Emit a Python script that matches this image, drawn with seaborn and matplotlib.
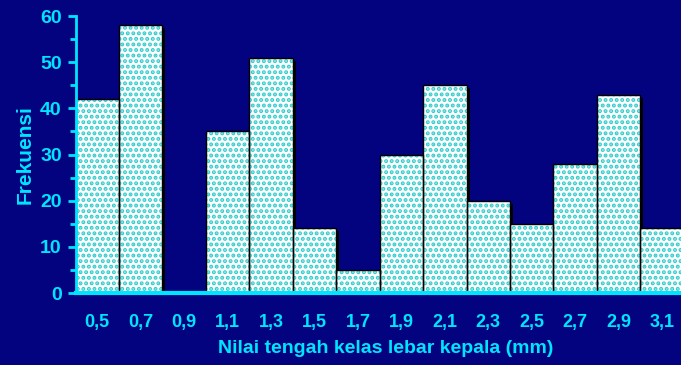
import matplotlib
matplotlib.use("Agg")
import matplotlib.pyplot as plt
import matplotlib.transforms as mtransforms
import seaborn as sns
import pandas as pd

# Class midpoints (head width, mm) and their frequencies
kelas = ["0,5", "0,7", "0,9", "1,1", "1,3", "1,5", "1,7",
         "1,9", "2,1", "2,3", "2,5", "2,7", "2,9", "3,1"]
frekuensi = [42, 58, 0, 35, 51, 14, 5, 30, 45, 20, 15, 28, 43, 14]

df = pd.DataFrame({"kelas": kelas, "frekuensi": frekuensi})

BG = "#03037f"
CYAN = "#00e5ff"
DOT = "#33cccc"

sns.set_theme(style="white")
plt.rcParams["font.family"] = ["Liberation Sans", "DejaVu Sans"]
plt.rcParams["hatch.linewidth"] = 2.0

fig = plt.figure(figsize=(6.81, 3.65), dpi=100, facecolor=BG)
ax = fig.add_axes([0.111, 0.197, 0.893, 0.759])
ax.set_facecolor(BG)

# drop shadow layer, shifted a few pixels right and down
sns.barplot(data=df, x="kelas", y="frekuensi", ax=ax, width=1.0,
            color="black", linewidth=0, saturation=1)
shift = mtransforms.ScaledTranslation(3 / 100, -3 / 100, fig.dpi_scale_trans)
for p in ax.patches:
    p.set_transform(ax.transData + shift)

# dotted fill layer (hatch colour follows the edge colour)
sns.barplot(data=df, x="kelas", y="frekuensi", ax=ax, width=1.0,
            color="white", edgecolor=DOT, linewidth=0, saturation=1,
            hatch="...")

# outline layer
sns.barplot(data=df, x="kelas", y="frekuensi", ax=ax, width=1.0,
            fill=False, edgecolor="black", linewidth=1.0)

ax.set_ylim(0, 60)
ax.set_xlim(-0.5, 13.5)
ax.set_yticks(range(0, 61, 10))
ax.set_yticks(range(5, 60, 10), minor=True)

for s in ["top", "right"]:
    ax.spines[s].set_visible(False)
ax.spines["left"].set_color(CYAN)
ax.spines["left"].set_linewidth(2)
ax.spines["left"].set_zorder(5)
ax.spines["bottom"].set_color(CYAN)
ax.spines["bottom"].set_linewidth(3)
ax.spines["bottom"].set_zorder(5)

ax.tick_params(axis="y", which="major", direction="out", length=6, width=2,
               color=CYAN, labelcolor=CYAN, labelsize=14, pad=4, left=True)
ax.tick_params(axis="y", which="minor", direction="out", length=4, width=2,
               color=CYAN, left=True)
ax.tick_params(axis="x", length=0, labelcolor=CYAN, labelsize=13, pad=15)
for lab in ax.get_xticklabels() + ax.get_yticklabels():
    lab.set_fontweight("bold")

ax.set_xlabel("Nilai tengah kelas lebar kepala (mm)", color=CYAN,
              fontsize=14, fontweight="bold", labelpad=8)
ax.xaxis.set_label_coords(0.51, -0.17)
ax.set_ylabel("Frekuensi", color=CYAN, fontsize=15, fontweight="bold")
ax.yaxis.set_label_coords(-0.068, 0.5)

fig.savefig("out.png", dpi=100, facecolor=BG)
